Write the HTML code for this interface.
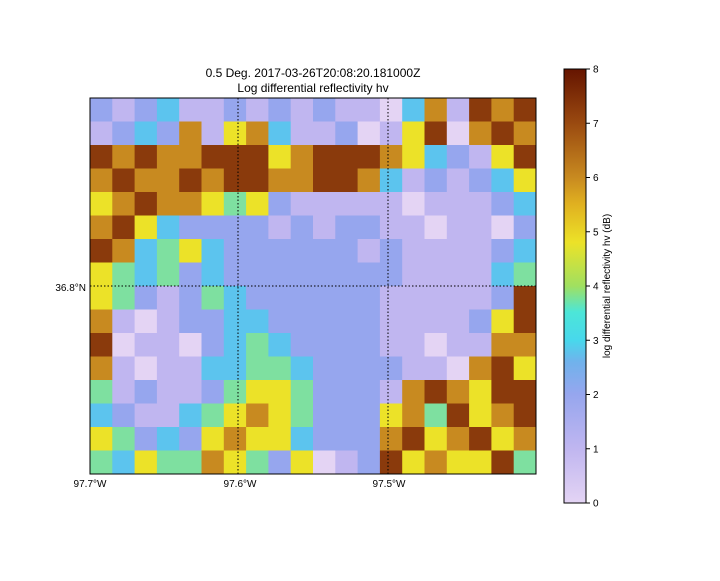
<!DOCTYPE html>
<html><head><meta charset="utf-8"><style>
body{margin:0;background:#fff;font-family:"Liberation Sans",sans-serif;}
</style></head><body>
<svg width="720" height="576" xmlns="http://www.w3.org/2000/svg">
<defs>
<linearGradient id="cb" x1="0" y1="1" x2="0" y2="0">
<stop offset="0" stop-color="#e4d4f4"/><stop offset="0.125" stop-color="#c0b6f0"/>
<stop offset="0.25" stop-color="#96a6ee"/><stop offset="0.325" stop-color="#70b2ec"/>
<stop offset="0.375" stop-color="#48d8ec"/><stop offset="0.44" stop-color="#4ce6d8"/>
<stop offset="0.5" stop-color="#a0e060"/><stop offset="0.6" stop-color="#ece228"/>
<stop offset="0.69" stop-color="#e0b020"/><stop offset="0.75" stop-color="#c88a20"/>
<stop offset="0.875" stop-color="#9a4a10"/><stop offset="1" stop-color="#651400"/>
</linearGradient>
<clipPath id="pc"><rect x="90" y="98" width="446" height="376"/></clipPath>
</defs>
<text x="313" y="77" font-size="12" text-anchor="middle">0.5 Deg. 2017-03-26T20:08:20.181000Z</text>
<text x="313" y="92" font-size="12" text-anchor="middle">Log differential reflectivity hv</text>
<g id="cells" clip-path="url(#pc)"></g>
<rect x="90" y="98" width="446" height="376" fill="none" stroke="#000" stroke-width="1"/>
<g stroke="#000" stroke-dasharray="1.5,2" stroke-width="1">
<line x1="238" y1="98" x2="238" y2="474"/><line x1="388" y1="98" x2="388" y2="474"/>
<line x1="90" y1="286" x2="536" y2="286"/>
</g>
<g font-size="10">
<text x="86" y="291" text-anchor="end">36.8°N</text>
<text x="90" y="487" text-anchor="middle">97.7°W</text>
<text x="240" y="487" text-anchor="middle">97.6°W</text>
<text x="389" y="487" text-anchor="middle">97.5°W</text>
</g>
<rect x="564" y="69" width="22" height="434" fill="url(#cb)" stroke="#000" stroke-width="1"/>
<g id="cbticks" font-size="10"></g>
<text transform="translate(610,286) rotate(-90)" font-size="10" text-anchor="middle">log differential reflectivity hv (dB)</text>
</svg>
<script>
const cbTicks=[0,1,2,3,4,5,6,7,8];
const zdr=[
[2,1,2,3,1,1,2,1,2,1,2,1,1,0,3,6,1,7,6,7],
[1,2,3,2,6,1,5,6,3,1,1,2,0,1,5,7,0,6,7,6],
[7,6,7,6,6,7,7,7,5,6,7,7,7,6,5,3,2,1,5,7],
[6,7,6,6,7,6,7,7,6,6,7,7,6,3,1,2,1,2,3,5],
[5,6,7,6,6,5,4,5,2,1,1,1,1,1,0,1,1,1,2,3],
[6,7,5,3,2,2,2,2,1,2,1,2,2,1,1,0,1,1,0,2],
[7,6,3,4,5,3,2,2,2,2,2,2,1,2,1,1,1,1,2,3],
[5,4,3,4,2,3,2,2,2,2,2,2,2,2,1,1,1,1,3,4],
[5,4,2,1,2,4,3,2,2,2,2,2,2,1,1,1,1,1,2,7],
[6,1,0,1,2,2,3,3,2,2,2,2,2,1,1,1,1,2,5,7],
[7,0,1,1,0,2,3,4,3,2,2,2,2,1,1,0,1,1,6,6],
[6,1,0,1,1,3,3,4,4,3,2,2,2,2,1,1,0,6,7,5],
[4,1,2,1,1,2,4,5,5,4,2,2,2,1,6,7,6,5,7,7],
[3,2,1,1,3,4,5,6,5,4,2,2,2,5,6,4,7,5,6,7],
[5,4,2,3,2,5,6,5,5,3,2,2,2,6,7,5,6,7,5,6],
[4,3,5,4,4,6,5,4,2,5,0,1,2,7,5,6,5,5,7,4]
];
const palette=["#e4d4f4","#c0b6f0","#96a6ee","#5cc4ee","#7ee0a0","#ece228","#c88a20","#8a3a0c","#651400"];
const NS="http://www.w3.org/2000/svg";
const X0=90,Y0=98,W=446,H=376;
const rows=zdr.length, cols=zdr[0].length;
const xs=c=>X0+c*W/cols, ys=r=>Y0+r*H/rows;
const g=document.getElementById('cells');
for(let r=0;r<rows;r++)for(let c=0;c<cols;c++){
  const v=zdr[r][c];
  const el=document.createElementNS(NS,'rect');
  el.setAttribute('x',xs(c));el.setAttribute('y',ys(r));
  el.setAttribute('width',W/cols+0.5);el.setAttribute('height',H/rows+0.5);
  el.setAttribute('fill',palette[Math.max(0,Math.min(8,Math.round(v)))]);
  
  
  g.appendChild(el);
}
const cg=document.getElementById('cbticks');
const cy=v=>503-v*(434/8);
cbTicks.forEach(v=>{
  const l=document.createElementNS(NS,'line');
  l.setAttribute('x1',586);l.setAttribute('x2',590);l.setAttribute('y1',cy(v));l.setAttribute('y2',cy(v));l.setAttribute('stroke','#000');
  
  
  cg.appendChild(l);
  const t=document.createElementNS(NS,'text');
  t.setAttribute('x',593);t.setAttribute('y',cy(v)+3.5);t.textContent=v;
  
  
  cg.appendChild(t);
});
</script>
</body></html>
